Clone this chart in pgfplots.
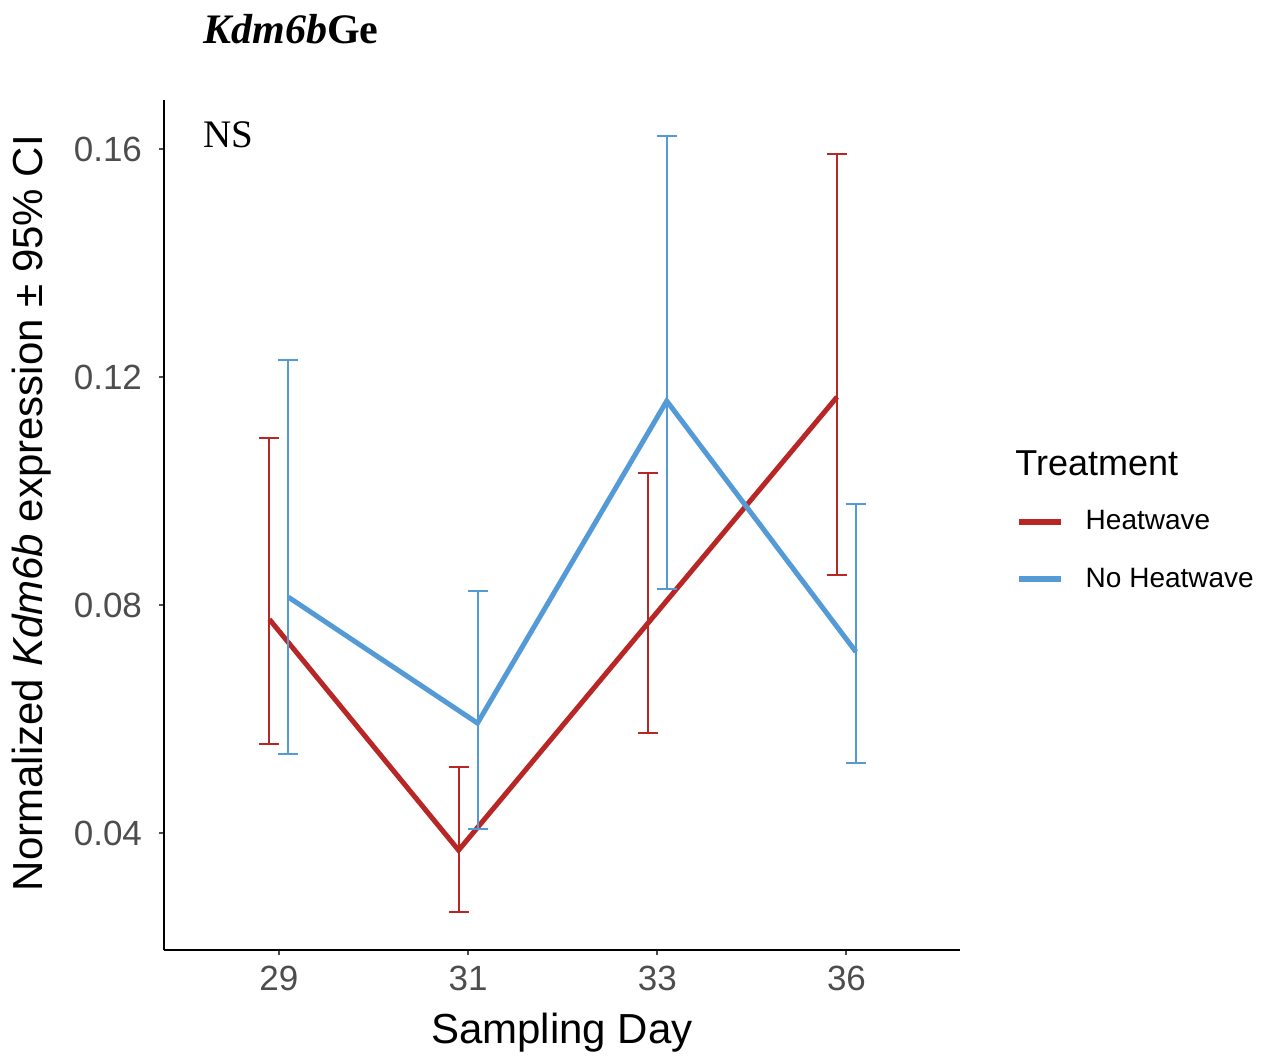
\documentclass[border=0pt]{standalone}
\usepackage{pgfplots}
\pgfplotsset{compat=1.18}
\usepackage{pgfplotstable}
\usepackage{fontspec}
\setmainfont{Liberation Sans}
\newfontfamily\tnr{Liberation Serif}
\definecolor{hwred}{RGB}{185,38,38}
\definecolor{nhblue}{RGB}{84,154,214}
\definecolor{tickgrey}{RGB}{77,77,77}

\pgfplotstableread{
x y ep em
-0.05 0.0775 0.0318 0.0219
0.95 0.0370 0.0146 0.0109
1.95 0.0768 0.0264 0.0193
2.95 0.1165 0.0426 0.0312
}\heat
\pgfplotstableread{
x y ep em
0.05 0.0814 0.0416 0.0275
1.05 0.0593 0.0232 0.0186
2.05 0.1158 0.0465 0.0330
3.05 0.0718 0.0259 0.0195
}\noheat

\begin{document}
\begin{tikzpicture}
\useasboundingbox (-82pt,-52.5pt) rectangle (551.5pt,475pt);
\begin{axis}[
  at={(0,0)}, anchor=south west,
  scale only axis, width=398pt, height=425pt,
  xmin=-0.607, xmax=3.6, ymin=0.0195, ymax=0.1686,
  axis x line*=bottom, axis y line*=left,
  axis line style={line width=1pt, black, -},
  xtick={0,1,2,3}, xticklabels={29,31,33,36},
  ytick={0.04,0.08,0.12,0.16},
  yticklabel style={/pgf/number format/fixed, /pgf/number format/fixed zerofill, /pgf/number format/precision=2},
  /pgf/number format/assume math mode=true,
  tick align=outside, major tick length=2.5pt,
  tick style={line width=1pt, tickgrey},
  ticklabel style={font=\fontsize{17.5}{20}\selectfont, text=tickgrey},
  yticklabel style={xshift=-5pt},
  xticklabel style={yshift=-2pt},
  xlabel={Sampling Day},
  ylabel={Normalized \textit{Kdm6b} expression ± 95\% CI},
  label style={font=\fontsize{21}{24}\selectfont},
  xlabel style={yshift=-4pt},
  ylabel style={yshift=4.5pt, xshift=6pt},
  clip=false,
  legend style={draw=none, fill=none, at={(axis description cs:1.07,0.522)}, anchor=north west,
    font=\fontsize{14}{16}\selectfont, inner sep=0pt, row sep=13.5pt, cells={anchor=west},
    /tikz/every odd column/.append style={column sep=9pt}},
  legend image code/.code={\draw[#1, line width=2.8pt] (0pt,0pt) -- (21pt,0pt);},
  legend cell align=left,
]
\addplot[hwred, line width=2.5pt, no markers,
  error bars/.cd, y dir=both, y explicit,
  error bar style={line width=1pt, hwred},
  error mark options={line width=1pt, mark size=5pt, hwred, rotate=90}]
  table[x=x, y=y, y error plus=ep, y error minus=em]{\heat};
\addlegendentry{Heatwave}
\addplot[nhblue, line width=2.5pt, no markers,
  error bars/.cd, y dir=both, y explicit,
  error bar style={line width=1pt, nhblue},
  error mark options={line width=1pt, mark size=5pt, nhblue, rotate=90}]
  table[x=x, y=y, y error plus=ep, y error minus=em]{\noheat};
\addlegendentry{No Heatwave}
\end{axis}
\node[anchor=base west, inner sep=0pt, font=\fontsize{21}{24}\selectfont\tnr\bfseries] at (19.5pt,453pt) {\textit{Kdm6b}Ge};
\node[anchor=base west, inner sep=0pt, font=\fontsize{19.5}{22}\selectfont\tnr] at (19.5pt,401pt) {NS};
\node[anchor=west, inner sep=0pt, font=\fontsize{18}{20}\selectfont] at (425.5pt,243.5pt) {Treatment};
\end{tikzpicture}
\end{document}
